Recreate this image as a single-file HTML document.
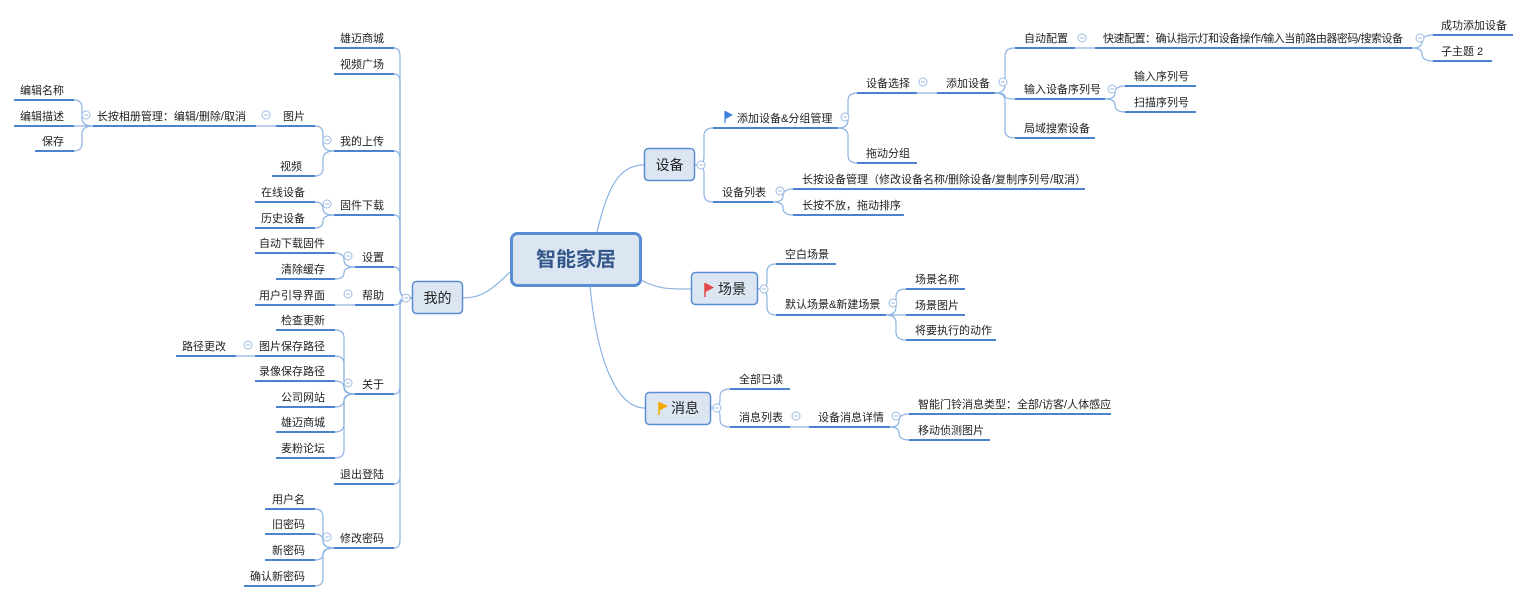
<!DOCTYPE html>
<html><head><meta charset="utf-8"><style>
html,body{margin:0;padding:0;background:#fff;}
svg{display:block;}
text{font-family:"Liberation Sans","Noto Sans CJK SC",sans-serif;font-size:11px;fill:#222;}
.u{stroke:#4a83d0;stroke-width:2;fill:none;}
.c{stroke:#8db3e2;stroke-width:1.2;fill:none;}
.k circle{fill:#fff;stroke:#9dbbe3;stroke-width:1;}
.k line{stroke:#9dbbe3;stroke-width:1;}
.r text{text-anchor:end;}
</style></head><body>
<svg width="1528" height="600" viewBox="0 0 1528 600" xmlns="http://www.w3.org/2000/svg">
<g class="c">
<path d="M510 272 C490 292 480 298 463 298"/>
<path d="M597 232 C608 185 620 165 644 165"/>
<path d="M641 280 C660 290 672 289 691 289"/>
<path d="M590 286 C598 370 620 408 645 408"/>
<path d="M412 298 Q400 298 400 290 L400 56 Q400 48 394 48"/>
<path d="M412 298 Q400 298 400 290 L400 82 Q400 74 394 74"/>
<path d="M412 298 Q400 298 400 290 L400 159 Q400 151 394 151"/>
<path d="M412 298 Q400 298 400 290 L400 223 Q400 215 394 215"/>
<path d="M412 298 Q400 298 400 290 L400 275 Q400 267 394 267"/>
<path d="M412 298 Q400 298 400 301 Q400 305 394 305"/>
<path d="M412 298 Q400 298 400 306 L400 386 Q400 394 394 394"/>
<path d="M412 298 Q400 298 400 306 L400 476 Q400 484 394 484"/>
<path d="M412 298 Q400 298 400 306 L400 540 Q400 548 394 548"/>
<path d="M334 151 Q323 151 323 143 L323 134 Q323 126 315 126"/>
<path d="M334 151 Q323 151 323 159 L323 168 Q323 176 315 176"/>
<path d="M276 126 L256 126"/>
<path d="M93 126 Q82 126 82 118 L82 108 Q82 100 74 100"/>
<path d="M93 126 L74 126"/>
<path d="M93 126 Q82 126 82 134 L82 143 Q82 151 74 151"/>
<path d="M334 215 Q323 215 323 209 Q323 202 315 202"/>
<path d="M334 215 Q323 215 323 221 Q323 228 315 228"/>
<path d="M355 267 Q344 267 344 260 Q344 253 335 253"/>
<path d="M355 267 Q344 267 344 273 Q344 279 335 279"/>
<path d="M355 305 L335 305"/>
<path d="M355 394 Q344 394 344 386 L344 338 Q344 330 335 330"/>
<path d="M355 394 Q344 394 344 386 L344 364 Q344 356 335 356"/>
<path d="M355 394 Q344 394 344 388 Q344 381 335 381"/>
<path d="M355 394 Q344 394 344 400 Q344 407 335 407"/>
<path d="M355 394 Q344 394 344 402 L344 424 Q344 432 335 432"/>
<path d="M355 394 Q344 394 344 402 L344 450 Q344 458 335 458"/>
<path d="M255 356 L236 356"/>
<path d="M334 548 Q323 548 323 540 L323 517 Q323 509 315 509"/>
<path d="M334 548 Q323 548 323 541 Q323 534 315 534"/>
<path d="M334 548 Q323 548 323 554 Q323 560 315 560"/>
<path d="M334 548 Q323 548 323 556 L323 578 Q323 586 315 586"/>
<path d="M695 165 Q704 165 704 157 L704 136 Q704 128 713 128"/>
<path d="M695 165 Q704 165 704 173 L704 194 Q704 202 713 202"/>
<path d="M838 128 Q848 128 848 120 L848 101 Q848 93 857 93"/>
<path d="M838 128 Q848 128 848 136 L848 155 Q848 163 857 163"/>
<path d="M917 93 L937 93"/>
<path d="M995 93 Q1005 93 1005 85 L1005 56 Q1005 48 1015 48"/>
<path d="M995 93 Q1005 93 1005 96 Q1005 99 1015 99"/>
<path d="M995 93 Q1005 93 1005 101 L1005 130 Q1005 138 1015 138"/>
<path d="M1075 48 L1095 48"/>
<path d="M1412 48 Q1422 48 1422 42 Q1422 35 1433 35"/>
<path d="M1412 48 Q1422 48 1422 54 Q1422 61 1433 61"/>
<path d="M1105 99 Q1115 99 1115 93 Q1115 86 1125 86"/>
<path d="M1105 99 Q1115 99 1115 105 Q1115 112 1125 112"/>
<path d="M773 202 Q783 202 783 196 Q783 189 793 189"/>
<path d="M773 202 Q783 202 783 208 Q783 215 793 215"/>
<path d="M758 289 Q767 289 767 281 L767 272 Q767 264 776 264"/>
<path d="M758 289 Q767 289 767 297 L767 307 Q767 315 776 315"/>
<path d="M886 315 Q896 315 896 307 L896 297 Q896 289 906 289"/>
<path d="M886 315 L906 315"/>
<path d="M886 315 Q896 315 896 323 L896 332 Q896 340 906 340"/>
<path d="M711 408 Q720 408 720 400 L720 397 Q720 389 730 389"/>
<path d="M711 408 Q720 408 720 416 L720 419 Q720 427 730 427"/>
<path d="M790 427 L809 427"/>
<path d="M890 427 Q899 427 899 421 Q899 414 909 414"/>
<path d="M890 427 Q899 427 899 433 Q899 440 909 440"/>
</g>
<g class="u">
<path d="M334 48H394M334 74H394M334 151H394M276 126H315M93 126H256M14 100H74M14 126H74M35 151H74M272 176H315M334 215H394M255 202H315M255 228H315M355 267H394M255 253H335M276 279H335M355 305H394M255 305H335M355 394H394M276 330H335M255 356H335M176 356H236M255 381H335M276 407H335M276 432H335M276 458H335M334 484H394M334 548H394M265 509H315M265 534H315M265 560H315M244 586H315"/>
<path d="M713 128H838M857 93H917M937 93H995M1015 48H1075M1095 48H1412M1433 35H1513M1433 61H1492M1015 99H1105M1125 86H1196M1125 112H1196M1015 138H1095M857 163H917M713 202H773M793 189H1085M793 215H904M776 264H836M776 315H886M906 289H965M906 315H965M906 340H996M730 389H790M730 427H790M809 427H890M909 414H1111M909 440H990"/>
</g>
<g class="k">
<g transform="translate(406,298)"><circle r="4"/><line x1="-2" x2="2"/></g>
<g transform="translate(327,140)"><circle r="4"/><line x1="-2" x2="2"/></g>
<g transform="translate(266,115)"><circle r="4"/><line x1="-2" x2="2"/></g>
<g transform="translate(86,115)"><circle r="4"/><line x1="-2" x2="2"/></g>
<g transform="translate(327,204)"><circle r="4"/><line x1="-2" x2="2"/></g>
<g transform="translate(348,256)"><circle r="4"/><line x1="-2" x2="2"/></g>
<g transform="translate(348,294)"><circle r="4"/><line x1="-2" x2="2"/></g>
<g transform="translate(348,383)"><circle r="4"/><line x1="-2" x2="2"/></g>
<g transform="translate(248,345)"><circle r="4"/><line x1="-2" x2="2"/></g>
<g transform="translate(327,537)"><circle r="4"/><line x1="-2" x2="2"/></g>
<g transform="translate(701,165)"><circle r="4"/><line x1="-2" x2="2"/></g>
<g transform="translate(845,117)"><circle r="4"/><line x1="-2" x2="2"/></g>
<g transform="translate(923,82)"><circle r="4"/><line x1="-2" x2="2"/></g>
<g transform="translate(1003,82)"><circle r="4"/><line x1="-2" x2="2"/></g>
<g transform="translate(1082,38)"><circle r="4"/><line x1="-2" x2="2"/></g>
<g transform="translate(1420,38)"><circle r="4"/><line x1="-2" x2="2"/></g>
<g transform="translate(1112,89)"><circle r="4"/><line x1="-2" x2="2"/></g>
<g transform="translate(780,191)"><circle r="4"/><line x1="-2" x2="2"/></g>
<g transform="translate(764,289)"><circle r="4"/><line x1="-2" x2="2"/></g>
<g transform="translate(893,303)"><circle r="4"/><line x1="-2" x2="2"/></g>
<g transform="translate(717,408)"><circle r="4"/><line x1="-2" x2="2"/></g>
<g transform="translate(796,416)"><circle r="4"/><line x1="-2" x2="2"/></g>
<g transform="translate(896,416)"><circle r="4"/><line x1="-2" x2="2"/></g>
</g>
<rect x="511.5" y="233.5" width="129" height="52" rx="6" fill="#dce6f3" stroke="#5a8ed3" stroke-width="3"/>
<text x="576" y="266" text-anchor="middle" style="font-size:20px;font-weight:bold;fill:#34578a">智能家居</text>
<rect x="412.5" y="281.5" width="50" height="32" rx="4" fill="#dce6f3" stroke="#5a8ed3" stroke-width="1.5"/>
<text x="437.5" y="303" text-anchor="middle" style="font-size:14px">我的</text>
<rect x="644.5" y="148.5" width="50" height="32" rx="4" fill="#dce6f3" stroke="#5a8ed3" stroke-width="1.5"/>
<text x="669.5" y="170" text-anchor="middle" style="font-size:14px">设备</text>
<rect x="691.5" y="272.5" width="66" height="32" rx="4" fill="#dce6f3" stroke="#5a8ed3" stroke-width="1.5"/>
<path d="M705 283 V297" stroke="#e54646" stroke-width="1.5"/><path d="M705.5 283 L714 287.5 L705.5 292Z" fill="#e54646"/>
<text x="718" y="294" style="font-size:14px">场景</text>
<rect x="645.5" y="392.5" width="65" height="32" rx="4" fill="#dce6f3" stroke="#5a8ed3" stroke-width="1.5"/>
<path d="M659 402 V415" stroke="#f5a800" stroke-width="1.5"/><path d="M659.5 402 L668 406 L659.5 410.5Z" fill="#f5a800"/>
<text x="671" y="413" style="font-size:14px">消息</text>
<path d="M725 111 V123" stroke="#3f7fe0" stroke-width="1.2"/><path d="M725.5 111 L733 115 L725.5 119Z" fill="#3f7fe0"/>
<g class="r">
<text x="384" y="42">雄迈商城</text>
<text x="384" y="68">视频广场</text>
<text x="384" y="145">我的上传</text>
<text x="305" y="120">图片</text>
<text x="246" y="120">长按相册管理：编辑/删除/取消</text>
<text x="64" y="94">编辑名称</text>
<text x="64" y="120">编辑描述</text>
<text x="64" y="145">保存</text>
<text x="302" y="170">视频</text>
<text x="384" y="209">固件下载</text>
<text x="305" y="196">在线设备</text>
<text x="305" y="222">历史设备</text>
<text x="384" y="261">设置</text>
<text x="325" y="247">自动下载固件</text>
<text x="325" y="273">清除缓存</text>
<text x="384" y="299">帮助</text>
<text x="325" y="299">用户引导界面</text>
<text x="384" y="388">关于</text>
<text x="325" y="324">检查更新</text>
<text x="325" y="350">图片保存路径</text>
<text x="226" y="350">路径更改</text>
<text x="325" y="375">录像保存路径</text>
<text x="325" y="401">公司网站</text>
<text x="325" y="426">雄迈商城</text>
<text x="325" y="452">麦粉论坛</text>
<text x="384" y="478">退出登陆</text>
<text x="384" y="542">修改密码</text>
<text x="305" y="503">用户名</text>
<text x="305" y="528">旧密码</text>
<text x="305" y="554">新密码</text>
<text x="305" y="580">确认新密码</text>
</g>
<text x="737" y="122">添加设备&amp;分组管理</text>
<text x="866" y="87">设备选择</text>
<text x="946" y="87">添加设备</text>
<text x="1024" y="42">自动配置</text>
<text x="1103" y="42" textLength="300">快速配置：确认指示灯和设备操作/输入当前路由器密码/搜索设备</text>
<text x="1441" y="29">成功添加设备</text>
<text x="1441" y="55">子主题 2</text>
<text x="1024" y="93">输入设备序列号</text>
<text x="1134" y="80">输入序列号</text>
<text x="1134" y="106">扫描序列号</text>
<text x="1024" y="132">局域搜索设备</text>
<text x="866" y="157">拖动分组</text>
<text x="722" y="196">设备列表</text>
<text x="802" y="183">长按设备管理（修改设备名称/删除设备/复制序列号/取消）</text>
<text x="802" y="209">长按不放，拖动排序</text>
<text x="785" y="258">空白场景</text>
<text x="785" y="308">默认场景&amp;新建场景</text>
<text x="915" y="283">场景名称</text>
<text x="915" y="309">场景图片</text>
<text x="915" y="334">将要执行的动作</text>
<text x="739" y="383">全部已读</text>
<text x="739" y="421">消息列表</text>
<text x="818" y="421">设备消息详情</text>
<text x="918" y="408">智能门铃消息类型：全部/访客/人体感应</text>
<text x="918" y="434">移动侦测图片</text>
</svg>
</body></html>
